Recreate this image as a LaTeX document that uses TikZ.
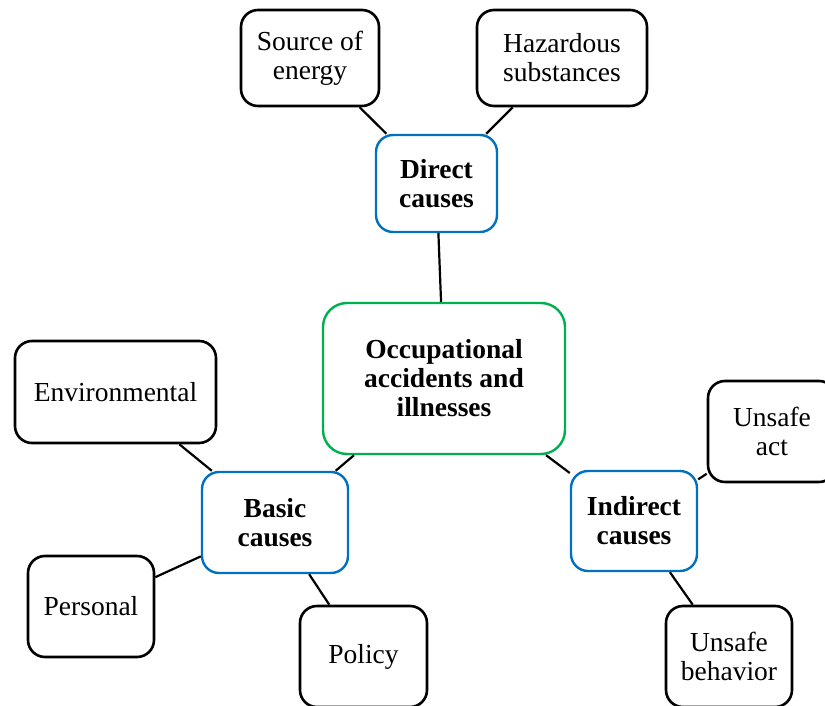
\documentclass[tikz,border=0pt]{standalone}
\usepackage{fontspec}
\setmainfont{Liberation Serif}
\begin{document}
\begin{tikzpicture}[x=1pt,y=-1pt,
  every node/.style={font=\fontsize{27.5}{29}\selectfont, align=center, inner sep=0pt},
  leaf/.style={draw=black, line width=2.6pt, rounded corners=17pt, fill=white},
  mid/.style={draw=blue1, line width=2.4pt, rounded corners=17pt, fill=white, font=\fontsize{27.5}{29}\selectfont\bfseries},
  hub/.style={draw=green1, line width=2.4pt, rounded corners=24pt, fill=white, font=\fontsize{27.5}{29}\selectfont\bfseries},
  link/.style={line width=2.2pt, black}]
\definecolor{blue1}{HTML}{0070C0}
\definecolor{green1}{HTML}{00B050}
\useasboundingbox (0,0) rectangle (825,706);
\clip (0,0) rectangle (825,706);
\node[hub, minimum width=242pt, minimum height=151pt] (occ) at (444,378.5) {Occupational\\accidents and\\illnesses};
\node[mid, minimum width=121pt, minimum height=97pt] (dir) at (436.5,183.5) {Direct\\causes};
\node[mid, minimum width=146pt, minimum height=101pt] (bas) at (275,522.5) {Basic\\causes};
\node[mid, minimum width=126pt, minimum height=100pt] (ind) at (634,521) {Indirect\\causes};
\node[leaf, minimum width=138pt, minimum height=96pt] (src) at (310,58) {Source of\\energy};
\node[leaf, minimum width=170pt, minimum height=96pt] (haz) at (562,58) {Hazardous\\substances};
\node[leaf, minimum width=201pt, minimum height=102pt] (env) at (115.5,392) {Environmental};
\node[leaf, minimum width=126pt, minimum height=101pt] (per) at (91,606.5) {Personal};
\node[leaf, minimum width=127pt, minimum height=101pt] (pol) at (363.5,656.5) {Policy};
\node[leaf, minimum width=128pt, minimum height=101pt] (act) at (772,431.5) {Unsafe\\act};
\node[leaf, minimum width=126pt, minimum height=101pt] (beh) at (729,656.5) {Unsafe\\behavior};
\draw[link] (src) -- (dir);
\draw[link] (haz) -- (dir);
\draw[link] (dir) -- (occ);
\draw[link] (occ) -- (bas);
\draw[link] (occ) -- (ind);
\draw[link] (env) -- (bas);
\draw[link] (per) -- (bas);
\draw[link] (bas) -- (pol);
\draw[link] (ind) -- (act);
\draw[link] (ind) -- (beh);
\end{tikzpicture}
\end{document}
